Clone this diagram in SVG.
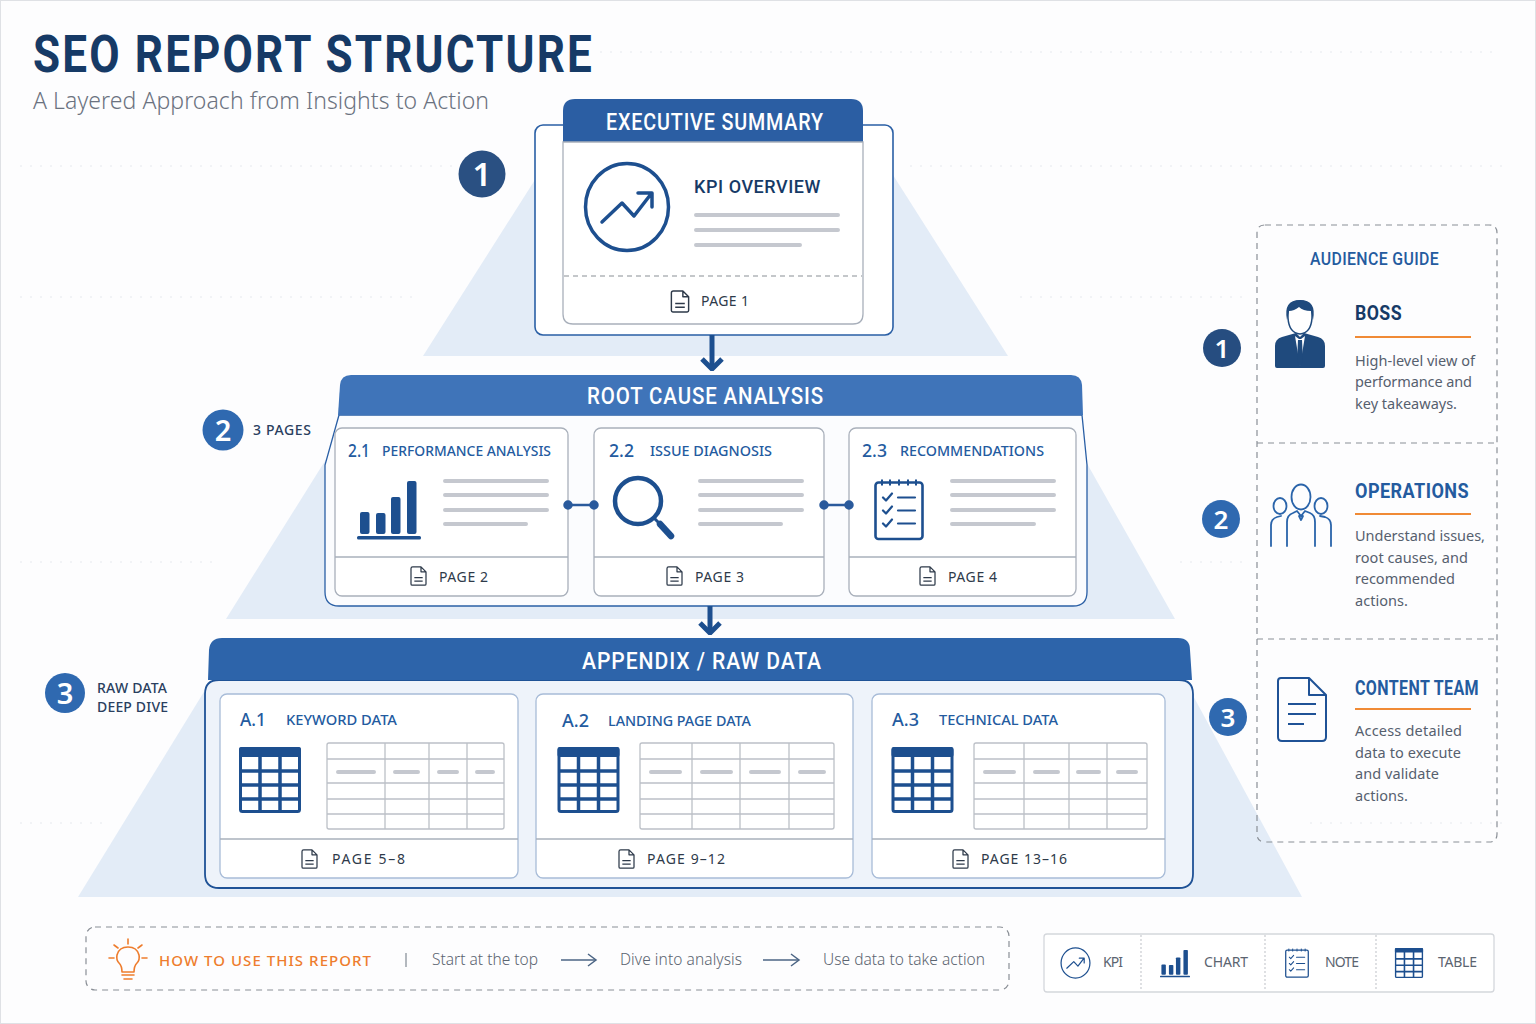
<svg xmlns="http://www.w3.org/2000/svg" width="1536" height="1024" viewBox="0 0 1536 1024">
<style>
text{font-family:"Noto Sans","Open Sans","Liberation Sans",sans-serif}
.rb{font-family:Roboto,"Noto Sans",sans-serif}
.hdr{font-family:Roboto,"Noto Sans",sans-serif;font-size:23px;font-weight:500;fill:#fff;letter-spacing:1px}
.card{fill:#fff;stroke:#a9b0bb;stroke-width:1.300}
.cardb{fill:#fff;stroke:#a8bcd8;stroke-width:1.300}
.div{stroke:#a9b0bb;stroke-width:1.300;fill:none}
.gl{stroke:#c5c8cf;stroke-width:4;stroke-linecap:round;fill:none}
.num{font-size:18px;font-weight:500;fill:#245b9f}
.sub{font-size:14.5px;font-weight:500;fill:#245b9f}
.pg{font-size:14px;font-weight:400;fill:#2e3a4a}
.tri{fill:#e3ecf7}
.ic{fill:none;stroke:#1d4f8f;stroke-linecap:round;stroke-linejoin:round}
.badge{font-weight:600;fill:#fff;text-anchor:middle}
.lab{font-size:14px;font-weight:500;fill:#2a3f5f}
.ttl{font-family:Roboto,"Noto Sans",sans-serif;font-size:21px;font-weight:700;letter-spacing:.5px}
.body{font-size:14.5px;fill:#56606e}
.or{stroke:#f08a35;stroke-width:2}
.dash{fill:none;stroke:#8a8f96;stroke-width:1.200;stroke-dasharray:6 5}
.tb{fill:none;stroke:#bcc0c7;stroke-width:1.300}
.foot{font-size:15.5px;fill:#5b6470}
.leg{font-size:14px;fill:#5b6470}
.faint{stroke:#e6e9ee;stroke-width:1;stroke-dasharray:2 8;fill:none}
</style>
<defs>
<symbol id="doc" viewBox="0 0 20 24"><path d="M3 1H13L19 7V21.500Q19 23 17.500 23H2.500Q1 23 1 21.500V3Q1 1 3 1ZM13 1V7H19M5 14H15M5 18H15" fill="none" stroke="#2e3a4a" stroke-width="1.500" stroke-linejoin="round"/></symbol>
<symbol id="tbl" viewBox="0 0 62 66"><rect x="1.500" y="1.500" width="59" height="63" rx="2" fill="#fff" stroke="#1d4f8f" stroke-width="3"/><rect x="0" y="0" width="62" height="10" rx="2" fill="#1d4f8f"/><path d="M21 8V65M41 8V65M1 24H61M1 38H61M1 52H61" stroke="#1d4f8f" stroke-width="3.500" fill="none"/></symbol>
<symbol id="bars" viewBox="0 0 64 60"><g fill="#1d4f8f"><rect x="3" y="32" width="9.500" height="22" rx="2"/><rect x="19" y="33" width="9.500" height="21" rx="2"/><rect x="34" y="17" width="9.500" height="37" rx="2"/><rect x="50" y="1" width="9.500" height="53" rx="2"/><rect x="0" y="56" width="64" height="3.500" rx="1.500"/></g></symbol>
<symbol id="chk" viewBox="0 0 50 62"><rect x="1.500" y="4" width="47" height="56.500" rx="3" fill="none" stroke="#1d4f8f" stroke-width="2.600"/><path d="M8 1V7M16 1V7M25 1V7M34 1V7M42 1V7" stroke="#1d4f8f" stroke-width="2"/><path d="M9 19L12 22L18 15M9 32L12 35L18 28M9 45L12 48L18 41" fill="none" stroke="#1d4f8f" stroke-width="2.200" stroke-linecap="round" stroke-linejoin="round"/><path d="M24 19H41M24 32H41M24 45H41" stroke="#1d4f8f" stroke-width="2.200" stroke-linecap="round"/></symbol>
<symbol id="kpi" viewBox="0 0 88 92"><ellipse cx="44" cy="46" rx="41.500" ry="43.500" fill="none" stroke="#1d4f8f" stroke-width="3.500"/><path d="M19 61L39 42L51 55L68 33M55 32H69V46" fill="none" stroke="#1d4f8f" stroke-width="3.500" stroke-linecap="round" stroke-linejoin="round"/></symbol>
<marker id="thin" viewBox="0 0 12 14" markerUnits="userSpaceOnUse" markerWidth="12" markerHeight="14" refX="10" refY="7" orient="auto"><path d="M2 1L10 7L2 13" fill="none" stroke="#4b6484" stroke-width="1.500"/></marker>
<marker id="big" viewBox="0 0 14 24" markerUnits="userSpaceOnUse" markerWidth="14" markerHeight="24" refX="12" refY="12" orient="auto"><path d="M2 2L12 12L2 22" fill="none" stroke="#1d4f8f" stroke-width="5"/></marker>
</defs>
<rect width="1536" height="1024" fill="#fdfdfe"/>
<rect x="0.500" y="0.500" width="1535" height="1023" fill="none" stroke="#dfe1e5"/>
<g id="background-grid">
<path class="faint" d="M600 52H1500M20 166H460M910 166H1510M20 297H420M1020 297H1250M20 562H220M1180 562H1250M20 823H110M1310 823H1510"/>
</g>
<g id="pyramid">
<polygon class="tri" points="423,356 538,175 893,175 1008,356"/>
<polygon class="tri" points="226,619 335,445 1085,460 1175,619"/>
<polygon class="tri" points="78,897 210,682 1190,690 1302,897"/>
</g>
<g id="title">
<text x="33" y="72" class="rb" font-size="51" font-weight="700" fill="#163a66" letter-spacing="2.500" textLength="561" lengthAdjust="spacingAndGlyphs">SEO REPORT STRUCTURE</text>
<text x="33" y="109" font-size="23" font-weight="300" fill="#6b7280" textLength="456" lengthAdjust="spacing">A Layered Approach from Insights to Action</text>
</g>
<g id="node-executive">
<rect x="535" y="125" width="358" height="210" rx="8" fill="#fff" stroke="#2a5fa5" stroke-width="1.600"/>
<path d="M563 142V111Q563 99 575 99H851Q863 99 863 111V142Z" fill="#2b5ea3"/>
<path d="M563 142H863V314Q863 324 853 324H573Q563 324 563 314Z" class="card"/>
<text x="606" y="130" class="hdr" textLength="218" lengthAdjust="spacingAndGlyphs">EXECUTIVE SUMMARY</text>
<use href="#kpi" x="583" y="161" width="88" height="92"/>
<text x="694" y="193" class="rb" font-size="19" font-weight="500" fill="#163a66" letter-spacing=".6" textLength="127" lengthAdjust="spacingAndGlyphs">KPI OVERVIEW</text>
<path class="gl" d="M696 215H838M696 230H838M696 245H800"/>
<line x1="564" y1="276" x2="862" y2="276" stroke="#8a8f96" stroke-width="1.200" stroke-dasharray="5 4"/>
<use href="#doc" x="670" y="290" width="20" height="23"/>
<text x="701" y="306" class="pg" textLength="48" lengthAdjust="spacing">PAGE 1</text>
</g>
<g id="node-root-cause">
<path d="M339 415L325 465V592Q325 606 339 606H1073Q1087 606 1087 592V465L1082 415Z" fill="#fbfcfe" stroke="#2a5fa5" stroke-width="1.300"/>
<path d="M338 415L340 385Q341 375 351 375H1071Q1081 375 1082 385L1083 415Z" fill="#3f74b9"/>
<text x="587" y="404" class="hdr" textLength="237" lengthAdjust="spacingAndGlyphs">ROOT CAUSE ANALYSIS</text>
<g id="card-2-1">
<rect class="card" x="335" y="428" width="233" height="168" rx="7"/><line class="div" x1="335" y1="557" x2="568" y2="557"/>
<text x="348" y="457" class="num" textLength="22" lengthAdjust="spacingAndGlyphs">2.1</text>
<text x="382" y="456" class="sub" textLength="169" lengthAdjust="spacingAndGlyphs">PERFORMANCE ANALYSIS</text>
<use href="#bars" x="357" y="480" width="64" height="60"/>
<path class="gl" d="M445 481H547M445 495H547M445 510H547M445 524H526"/>
<use href="#doc" x="410" y="566" width="17" height="20"/>
<text x="439" y="582" class="pg" textLength="49" lengthAdjust="spacing">PAGE 2</text>
</g>
<g id="card-2-2">
<rect class="card" x="594" y="428" width="230" height="168" rx="7"/><line class="div" x1="594" y1="557" x2="824" y2="557"/>
<text x="609" y="457" class="num" textLength="25" lengthAdjust="spacingAndGlyphs">2.2</text>
<text x="650" y="456" class="sub" textLength="122" lengthAdjust="spacingAndGlyphs">ISSUE DIAGNOSIS</text>
<circle class="ic" cx="638" cy="501" r="23" stroke-width="4.500"/>
<line class="ic" x1="655" y1="519" x2="660" y2="524" stroke-width="3"/>
<line class="ic" x1="660" y1="524" x2="671" y2="536" stroke-width="6.500"/>
<path class="gl" d="M700 481H802M700 495H802M700 510H802M700 524H781"/>
<use href="#doc" x="666" y="566" width="17" height="20"/>
<text x="695" y="582" class="pg" textLength="49" lengthAdjust="spacing">PAGE 3</text>
</g>
<g id="card-2-3">
<rect class="card" x="849" y="428" width="227" height="168" rx="7"/><line class="div" x1="849" y1="557" x2="1076" y2="557"/>
<text x="862" y="457" class="num" textLength="25" lengthAdjust="spacingAndGlyphs">2.3</text>
<text x="900" y="456" class="sub" textLength="144" lengthAdjust="spacingAndGlyphs">RECOMMENDATIONS</text>
<use href="#chk" x="874" y="477" width="50" height="65"/>
<path class="gl" d="M952 481H1054M952 495H1054M952 510H1054M952 524H1034"/>
<use href="#doc" x="919" y="566" width="17" height="20"/>
<text x="948" y="582" class="pg" textLength="49" lengthAdjust="spacing">PAGE 4</text>
</g>
</g>
<g id="node-appendix">
<path d="M219 680H1179Q1193 680 1193 694V874Q1193 888 1179 888H219Q205 888 205 874V694Q205 680 219 680Z" fill="#eef3fa" stroke="#1f5296" stroke-width="1.800"/>
<path d="M208 680L209 650Q210 638 222 638H1178Q1190 638 1190 650L1192 680Z" fill="#2d64aa"/>
<text x="582" y="669" class="hdr" textLength="240" lengthAdjust="spacingAndGlyphs">APPENDIX / RAW DATA</text>
<g id="card-a-1">
<rect class="cardb" x="220" y="694" width="298" height="184" rx="7"/><line class="div" x1="220" y1="839" x2="518" y2="839"/>
<text x="240" y="726" class="num" textLength="26" lengthAdjust="spacingAndGlyphs">A.1</text>
<text x="286" y="725" class="sub" textLength="111" lengthAdjust="spacingAndGlyphs">KEYWORD DATA</text>
<use href="#tbl" x="239" y="747" width="62" height="66"/>
<rect class="tb" x="327" y="743" width="177" height="86" rx="2"/>
<path class="tb" d="M385 743V829M429 743V829M467 743V829M327 759H504M327 783H504M327 799H504M327 814H504"/>
<path class="gl" d="M338 772H374M395 772H418M439 772H457M477 772H493" stroke-width="3.500"/>
<use href="#doc" x="301" y="849" width="17" height="20"/>
<text x="332" y="864" class="pg" textLength="73" lengthAdjust="spacing">PAGE 5–8</text>
</g>
<g id="card-a-2">
<rect class="cardb" x="536" y="694" width="317" height="184" rx="7"/><line class="div" x1="536" y1="839" x2="853" y2="839"/>
<text x="562" y="727" class="num" textLength="27" lengthAdjust="spacingAndGlyphs">A.2</text>
<text x="608" y="726" class="sub" textLength="143" lengthAdjust="spacingAndGlyphs">LANDING PAGE DATA</text>
<use href="#tbl" x="557" y="747" width="63" height="66"/>
<rect class="tb" x="640" y="743" width="194" height="86" rx="2"/>
<path class="tb" d="M692 743V829M740 743V829M789 743V829M640 759H834M640 783H834M640 799H834M640 814H834"/>
<path class="gl" d="M651 772H680M702 772H731M751 772H779M800 772H824" stroke-width="3.500"/>
<use href="#doc" x="618" y="849" width="17" height="20"/>
<text x="647" y="864" class="pg" textLength="78" lengthAdjust="spacing">PAGE 9–12</text>
</g>
<g id="card-a-3">
<rect class="cardb" x="872" y="694" width="293" height="184" rx="7"/><line class="div" x1="872" y1="839" x2="1165" y2="839"/>
<text x="892" y="726" class="num" textLength="27" lengthAdjust="spacingAndGlyphs">A.3</text>
<text x="939" y="725" class="sub" textLength="119" lengthAdjust="spacingAndGlyphs">TECHNICAL DATA</text>
<use href="#tbl" x="891" y="747" width="63" height="66"/>
<rect class="tb" x="974" y="743" width="173" height="86" rx="2"/>
<path class="tb" d="M1024 743V829M1069 743V829M1107 743V829M974 759H1147M974 783H1147M974 799H1147M974 814H1147"/>
<path class="gl" d="M985 772H1014M1035 772H1058M1078 772H1099M1118 772H1136" stroke-width="3.500"/>
<use href="#doc" x="952" y="849" width="17" height="20"/>
<text x="981" y="864" class="pg" textLength="86" lengthAdjust="spacing">PAGE 13–16</text>
</g>
</g>
<g id="connectors">
<line x1="712" y1="335" x2="712" y2="369" stroke="#1d4f8f" stroke-width="5" marker-end="url(#big)"/>
<line x1="710" y1="606" x2="710" y2="633" stroke="#1d4f8f" stroke-width="5" marker-end="url(#big)"/>
<g stroke="#2a5a9c" stroke-width="2.500" fill="#2a5a9c">
<line x1="568" y1="505" x2="594" y2="505"/><circle cx="568" cy="505" r="3.500"/><circle cx="594" cy="505" r="3.500"/>
<line x1="824" y1="505" x2="849" y2="505"/><circle cx="824" cy="505" r="3.500"/><circle cx="849" cy="505" r="3.500"/>
</g>
<line x1="561" y1="960" x2="596" y2="960" stroke="#4b6484" stroke-width="1.500" marker-end="url(#thin)"/>
<line x1="763" y1="960" x2="799" y2="960" stroke="#4b6484" stroke-width="1.500" marker-end="url(#thin)"/>
</g>
<g id="badges">
<circle cx="482" cy="174" r="23.500" fill="#2a5082"/><text x="482" y="186" class="badge" font-size="33">1</text>
<circle cx="223" cy="430" r="20.500" fill="#2f69b0"/><text x="223" y="441" class="badge" font-size="29">2</text>
<text x="253" y="435" class="lab" textLength="58" lengthAdjust="spacing">3 PAGES</text>
<circle cx="65" cy="693" r="20" fill="#2f69b0"/><text x="65" y="704" class="badge" font-size="29">3</text>
<text x="97" y="693" class="lab" textLength="70" lengthAdjust="spacing">RAW DATA</text>
<text x="97" y="712" class="lab" textLength="71" lengthAdjust="spacing">DEEP DIVE</text>
</g>
<g id="audience-guide">
<path class="dash" d="M1265 225H1489Q1497 225 1497 233V834Q1497 842 1489 842H1265Q1257 842 1257 834V233Q1257 225 1265 225ZM1257 443H1497M1257 639H1497"/>
<text x="1310" y="265" class="rb" font-size="18" font-weight="500" fill="#245b9f" letter-spacing=".4" textLength="129" lengthAdjust="spacingAndGlyphs">AUDIENCE GUIDE</text>
<g id="audience-boss">
<circle cx="1222" cy="348" r="19" fill="#264d80"/><text x="1222" y="358" class="badge" font-size="26">1</text>
<path d="M1275 366V346Q1275 339 1282 337L1296 333L1300 337L1304 333L1318 337Q1325 339 1325 346V366Q1325 368 1323 368H1277Q1275 368 1275 366Z" fill="#1f4a7d"/>
<path d="M1295 336L1300 366L1305 336L1301 339H1299Z" fill="#fff"/><path d="M1298 340H1302L1303 360L1300 367L1297 360Z" fill="#1f4a7d"/>
<path d="M1288 318Q1287 301 1300 301Q1313 301 1312 318Q1311 333 1300 334Q1289 333 1288 318Z" fill="#fff" stroke="#1f4a7d" stroke-width="1.500"/>
<path d="M1287 320Q1283 300 1300 300Q1317 300 1313 320L1311 311Q1303 311 1299 307Q1294 311 1289 311Z" fill="#1f4a7d"/>
<text x="1355" y="320" class="ttl" fill="#163a66" textLength="47" lengthAdjust="spacingAndGlyphs">BOSS</text>
<line class="or" x1="1355" y1="337" x2="1471" y2="337"/>
<text x="1355" y="366" class="body" textLength="120" lengthAdjust="spacing">High-level view of</text>
<text x="1355" y="387" class="body" textLength="117" lengthAdjust="spacing">performance and</text>
<text x="1355" y="409" class="body" textLength="102" lengthAdjust="spacing">key takeaways.</text>
</g>
<g id="audience-operations">
<circle cx="1221" cy="519" r="19" fill="#2f69b0"/><text x="1221" y="529" class="badge" font-size="26">2</text>
<g fill="none" stroke="#2a64aa" stroke-width="1.800" stroke-linecap="round" stroke-linejoin="round">
<ellipse cx="1301" cy="497" rx="9.500" ry="12.500"/><ellipse cx="1280" cy="506" rx="6.500" ry="8"/><ellipse cx="1321" cy="506" rx="6.500" ry="8"/>
<path d="M1271 546V525Q1271 519 1277 517L1281 516M1287 546V522Q1287 515 1293 513L1297 511L1301 516L1305 511L1310 513Q1315 515 1315 522V546M1320 516L1325 517Q1331 519 1331 525V546M1299 516L1301 520L1303 516"/>
</g>
<text x="1355" y="498" class="ttl" fill="#245b9f" textLength="114" lengthAdjust="spacingAndGlyphs">OPERATIONS</text>
<line class="or" x1="1355" y1="514" x2="1471" y2="514"/>
<text x="1355" y="541" class="body" textLength="130" lengthAdjust="spacing">Understand issues,</text>
<text x="1355" y="563" class="body" textLength="113" lengthAdjust="spacing">root causes, and</text>
<text x="1355" y="584" class="body" textLength="100" lengthAdjust="spacing">recommended</text>
<text x="1355" y="606" class="body" textLength="53" lengthAdjust="spacing">actions.</text>
</g>
<g id="audience-content">
<circle cx="1228" cy="717" r="19" fill="#2f69b0"/><text x="1228" y="727" class="badge" font-size="26">3</text>
<path d="M1281 678H1309L1326 695V737Q1326 741 1322 741H1282Q1278 741 1278 737V681Q1278 678 1281 678ZM1309 678V695H1326M1288 704H1316M1288 714H1316M1288 724H1304" fill="none" stroke="#1f5296" stroke-width="2" stroke-linejoin="round"/>
<text x="1355" y="695" class="ttl" fill="#245b9f" textLength="124" lengthAdjust="spacingAndGlyphs">CONTENT TEAM</text>
<line class="or" x1="1355" y1="709" x2="1471" y2="709"/>
<text x="1355" y="736" class="body" textLength="107" lengthAdjust="spacing">Access detailed</text>
<text x="1355" y="758" class="body" textLength="106" lengthAdjust="spacing">data to execute</text>
<text x="1355" y="779" class="body" textLength="84" lengthAdjust="spacing">and validate</text>
<text x="1355" y="801" class="body" textLength="53" lengthAdjust="spacing">actions.</text>
</g>
</g>
<g id="how-to-use">
<rect class="dash" x="86" y="927" width="923" height="63" rx="9"/>
<path d="M122 972Q122 966 119 963Q116 960 117 955Q119 947 128 947Q137 947 139 955Q140 960 137 963Q134 966 134 972ZM122 975H134M124 979H132M128 939V944M114 945L118 948M142 945L138 948M109 958H114M142 958H147" fill="none" stroke="#ee7d2e" stroke-width="1.600" stroke-linecap="round" stroke-linejoin="round"/>
<text x="159" y="966" font-size="15" font-weight="500" fill="#ee7d2e" textLength="212" lengthAdjust="spacing">HOW TO USE THIS REPORT</text>
<line x1="406" y1="953" x2="406" y2="967" stroke="#9aa0a8" stroke-width="1.500"/>
<text x="432" y="965" class="foot" font-weight="300" textLength="106" lengthAdjust="spacing">Start at the top</text>
<text x="620" y="965" class="foot" font-weight="300" textLength="122" lengthAdjust="spacing">Dive into analysis</text>
<text x="823" y="965" class="foot" font-weight="300" textLength="162" lengthAdjust="spacing">Use data to take action</text>
</g>
<g id="legend">
<rect x="1044" y="934" width="450" height="58" rx="3" fill="#fff" stroke="#d4d7dc" stroke-width="1.300"/>
<path d="M1141 935V991M1265 935V991M1376 935V991" stroke="#c8cbd0" stroke-width="1.200" stroke-dasharray="2 2"/>
<g id="legend-kpi"><use href="#kpi" x="1060" y="947" width="31" height="32"/><text x="1103" y="967" class="leg" textLength="20" lengthAdjust="spacing">KPI</text></g>
<g id="legend-chart"><use href="#bars" x="1160" y="949" width="30" height="29"/><text x="1204" y="967" class="leg" textLength="44" lengthAdjust="spacing">CHART</text></g>
<g id="legend-note"><use href="#chk" x="1285" y="947" width="24" height="32"/><text x="1325" y="967" class="leg" textLength="34" lengthAdjust="spacing">NOTE</text></g>
<g id="legend-table"><use href="#tbl" x="1394" y="948" width="30" height="30"/><text x="1438" y="967" class="leg" textLength="39" lengthAdjust="spacing">TABLE</text></g>
</g>
</svg>
